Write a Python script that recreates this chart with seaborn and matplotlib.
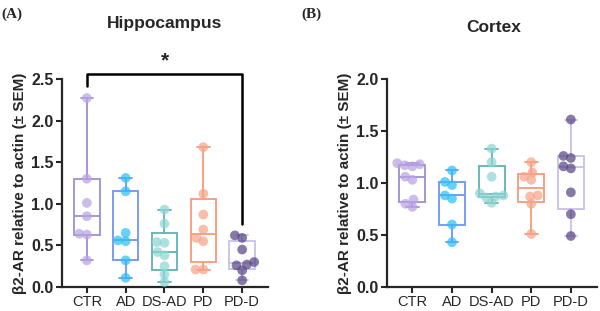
import numpy as np
import pandas as pd
import matplotlib.pyplot as plt
import seaborn as sns

# groups and values
groups = ['CTR', 'AD', 'DS-AD', 'PD', 'PD-D']

hip_ctr = [0.32, 0.63, 0.64, 0.85, 1.01, 1.30, 2.27]
hip_ad = [0.11, 0.32, 0.55, 0.56, 0.65, 1.15, 1.31]
hip_dsad = [0.06, 0.15, 0.25, 0.38, 0.42, 0.53, 0.54, 0.76, 0.93]
hip_pd = [0.21, 0.21, 0.55, 0.59, 0.69, 0.87, 1.12, 1.68]
hip_pdd = [0.08, 0.20, 0.26, 0.27, 0.30, 0.45, 0.59, 0.62]

cx_ctr = [0.77, 0.80, 0.84, 1.03, 1.06, 1.16, 1.17, 1.18, 1.19]
cx_ad = [0.43, 0.60, 0.85, 0.88, 0.98, 1.01, 1.12]
cx_dsad = [0.81, 0.86, 0.87, 0.88, 0.90, 1.06, 1.20, 1.33]
cx_pd = [0.51, 0.80, 0.87, 0.88, 1.03, 1.06, 1.10, 1.20]
cx_pdd = [0.49, 0.70, 0.91, 1.14, 1.16, 1.24, 1.26, 1.61]

hip = [hip_ctr, hip_ad, hip_dsad, hip_pd, hip_pdd]
cortex = [cx_ctr, cx_ad, cx_dsad, cx_pd, cx_pdd]

box_cols = ['#a08fcf', '#6f95f2', '#5fb3b3', '#f79a7c', '#c9bfea']
pt_cols = ['#b9a3e3', '#2ec0f5', '#8fd5d3', '#f7a48a', '#5a4785']

sns.set_style('ticks')
plt.rcParams['font.family'] = ['Liberation Sans', 'DejaVu Sans']


def long_df(vals):
    rows = []
    for g, v in zip(groups, vals):
        for x in v:
            rows.append((g, x))
    return pd.DataFrame(rows, columns=['group', 'value'])


def panel(ax, vals, ymax):
    # box stats like prism (quartiles with (n+1)p rule, whiskers min-max)
    stats = []
    for v in vals:
        a = np.array(v)
        q1, med, q3 = np.percentile(a, [25, 50, 75], method='weibull')
        stats.append(dict(med=med, q1=q1, q3=q3, whislo=a.min(), whishi=a.max(), fliers=[]))
    bp = ax.bxp(stats, positions=range(len(groups)), widths=0.66, patch_artist=True,
                showfliers=False, manage_ticks=False)
    for i in range(len(groups)):
        c = box_cols[i]
        bp['boxes'][i].set(facecolor='none', edgecolor=c, linewidth=1.3)
        bp['medians'][i].set(color=c, linewidth=1.3)
        for w in bp['whiskers'][2 * i:2 * i + 2]:
            w.set(color=c, linewidth=1.3)
        for cp in bp['caps'][2 * i:2 * i + 2]:
            cp.set(color=c, linewidth=1.3)
            xd = cp.get_xdata()
            m = (xd[0] + xd[1]) / 2
            cp.set_xdata([m - 0.16, m + 0.16])

    df = long_df(vals)
    sns.swarmplot(data=df, x='group', y='value', hue='group', palette=pt_cols,
                  size=5.3, alpha=0.72, ax=ax, legend=False, order=groups)

    ax.set_ylim(0, ymax)
    ax.set_xlim(-0.64, 4.66)
    ticks = np.arange(0, ymax + 0.01, 0.5)
    ax.set_yticks(ticks)
    ax.set_yticklabels(['%.1f' % t for t in ticks], fontweight='bold', fontsize=11.5)
    ax.set_xticks(range(len(groups)))
    ax.set_xticklabels(groups, fontsize=10.5)
    ax.set_xlabel('')
    ax.set_ylabel('β2-AR relative to actin (± SEM)', fontweight='bold', fontsize=11, labelpad=3)
    ax.tick_params(width=1.5, length=4, pad=2)
    for s in ['left', 'bottom']:
        ax.spines[s].set_linewidth(1.6)
    sns.despine(ax=ax)


fig = plt.figure(figsize=(6, 3.11), dpi=100)
ax1 = fig.add_axes([0.1033, 0.0772, 0.343, 0.669])
ax2 = fig.add_axes([0.645, 0.0772, 0.35, 0.669])

panel(ax1, hip, 2.5)
panel(ax2, cortex, 2.0)

# lay the swarms out with small dots, then freeze them and draw the dots bigger
fig.canvas.draw()
for ax in (ax1, ax2):
    for coll in ax.collections:
        if 'draw' in coll.__dict__:
            del coll.draw
        coll.set_sizes([7.0 ** 2])
        coll.set_clip_on(False)
        coll.set_zorder(3)

fig.text(0.275, 0.923, 'Hippocampus', ha='center', va='center', fontweight='bold', fontsize=12.5)
fig.text(0.822, 0.913, 'Cortex', ha='center', va='center', fontweight='bold', fontsize=12.5)

# significance bracket CTR vs PD-D
ax1.plot([0, 0, 4, 4], [2.42, 2.56, 2.56, 0.76], color='black', lw=1.8, clip_on=False)
ax1.text(2, 2.6, '*', ha='center', va='bottom', fontsize=15, fontweight='bold')

fig.text(0.002, 0.955, '(A)', family=['Liberation Serif'], fontweight='bold', fontsize=11, va='center')
fig.text(0.503, 0.955, '(B)', family=['Liberation Serif'], fontweight='bold', fontsize=11, va='center')

fig.savefig('out.png', dpi=100)
